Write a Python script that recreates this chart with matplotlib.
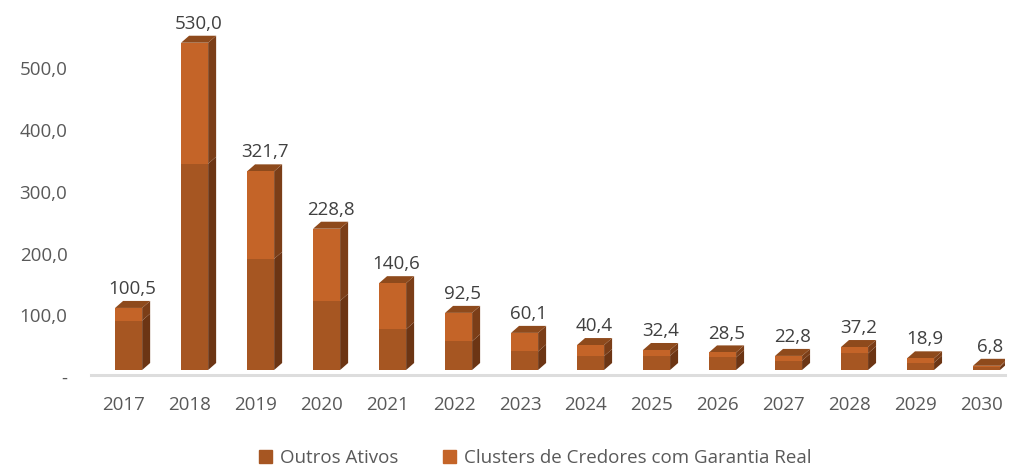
import numpy as np
import matplotlib.pyplot as plt
from matplotlib.patches import Polygon, Patch
from matplotlib.transforms import ScaledTranslation

plt.rcParams['font.family'] = ['Open Sans', 'DejaVu Sans']

anos = ['2017', '2018', '2019', '2020', '2021', '2022', '2023',
        '2024', '2025', '2026', '2027', '2028', '2029', '2030']
outros = [80.0, 334.0, 180.0, 112.0, 66.0, 46.5, 30.0,
          22.5, 23.0, 20.5, 15.0, 27.0, 12.0, 5.0]
clusters = [20.5, 196.0, 141.7, 116.8, 74.6, 46.0, 30.1,
            17.9, 9.4, 8.0, 7.8, 10.2, 6.9, 1.8]
yticks = [0, 100, 200, 300, 400, 500]

nome_outros = 'Outros Ativos'
nome_clusters = 'Clusters de Credores com Garantia Real'

# cores (frente, lado)
c_outros, c_outros_lado = '#A65622', '#6C3514'
c_clus, c_clus_lado = '#C46428', '#7B3E18'
c_topo = '#8E4A1C'

fig = plt.figure(figsize=(10.1, 4.7), dpi=100)
ax = fig.add_axes([91/1010, 100/470, 914/1010, 360/470])
ax.set_xlim(-0.5, 13.35)
ax.set_ylim(0, 583)

x = np.arange(len(anos))
larg = 0.41
desl = 0.07
total = np.array(outros) + np.array(clusters)

b1 = ax.bar(x + desl, outros, width=larg, color=c_outros, zorder=3)
b2 = ax.bar(x + desl, clusters, bottom=outros, width=larg, color=c_clus, zorder=3)

# profundidade 3d em pixels -> dados
inv = ax.transData.inverted()
p0 = inv.transform((0, 0))
p1 = inv.transform((8, 7))
dx, dy = p1[0] - p0[0], p1[1] - p0[1]

for barras, cor in ((b1, c_outros_lado), (b2, c_clus_lado)):
    for r in barras:
        xr = r.get_x() + r.get_width()
        y0 = r.get_y()
        y1 = y0 + r.get_height()
        ax.add_patch(Polygon([(xr, y0), (xr + dx, y0 + dy), (xr + dx, y1 + dy), (xr, y1)],
                             closed=True, facecolor=cor, edgecolor='none', zorder=2))

for r in b2:
    xl = r.get_x()
    xr = xl + r.get_width()
    t = r.get_y() + r.get_height()
    ax.add_patch(Polygon([(xl, t), (xl + dx, t + dy), (xr + dx, t + dy), (xr, t)],
                         closed=True, facecolor=c_topo, edgecolor='none', zorder=2))

for xi, t in zip(x, total):
    ax.annotate(f'{t:.1f}'.replace('.', ','), (xi + desl + dx / 2, t),
                xytext=(0, 10), textcoords='offset points', ha='center',
                va='baseline', fontsize=13.5, color='#404040')

# chao
ax.plot([0, 1], [0, 0], color='#DDDDDD', lw=2.2, clip_on=False,
        transform=ax.transAxes + ScaledTranslation(0, -0.05, fig.dpi_scale_trans), zorder=1)

ax.set_xticks(x)
ax.set_xticklabels(anos)
ax.set_yticks(yticks)
ax.set_yticklabels(['-' if v == 0 else f'{v:.1f}'.replace('.', ',') for v in yticks])
ax.tick_params(axis='x', length=0, pad=19, labelsize=13.5, labelcolor='#595959')
ax.tick_params(axis='y', length=0, pad=17, labelsize=13.5, labelcolor='#595959')
off = ScaledTranslation(0, -0.07, fig.dpi_scale_trans)
for lbl in ax.get_yticklabels():
    lbl.set_transform(lbl.get_transform() + off)

for s in ax.spines.values():
    s.set_visible(False)

fig.legend(handles=[Patch(color=c_outros, label=nome_outros),
                    Patch(color=c_clus, label=nome_clusters)],
           loc='center', bbox_to_anchor=(535/1010, 1 - 458/470), ncol=2,
           frameon=False, fontsize=13.5, labelcolor='#595959',
           handlelength=0.7, handleheight=0.7, handletextpad=0.4,
           columnspacing=2.4)

fig.savefig('out.png', dpi=100)
